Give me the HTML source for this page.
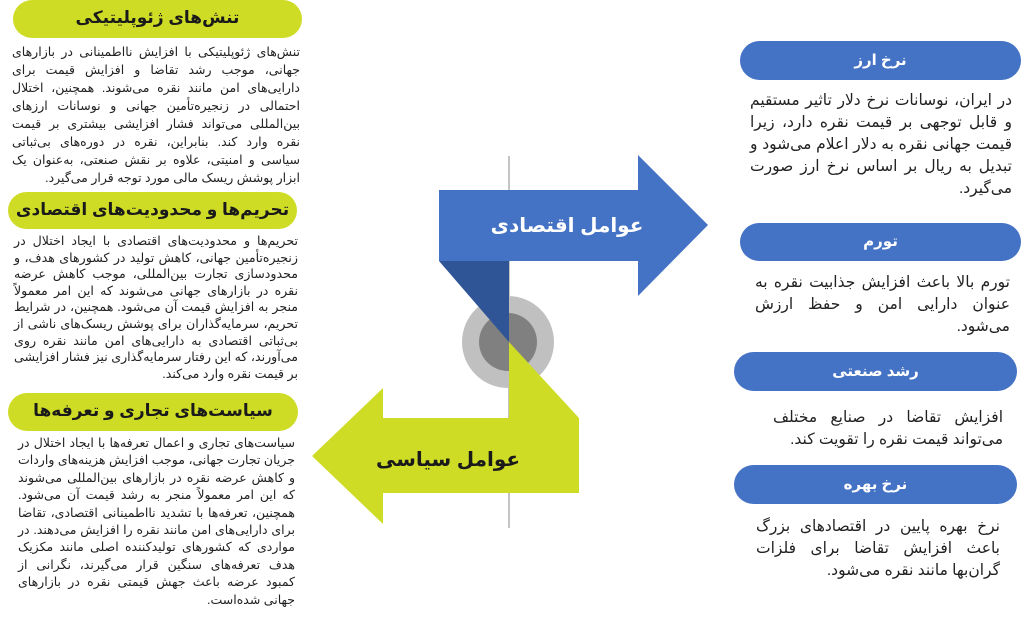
<!DOCTYPE html>
<html><head><meta charset="utf-8"><style>
body{margin:0;width:1024px;height:620px;background:#fff;position:relative;overflow:hidden;font-family:"Liberation Sans","DejaVu Sans",sans-serif;}
.p{position:absolute;border-radius:20px;text-align:center;font-weight:bold;direction:rtl;}
.g{background:#cedc26;color:#1a1a1a;font-size:17px;}
.b{background:#4472c4;color:#fff;font-size:15px;}
.t{position:absolute;direction:rtl;text-align:justify;text-align-last:right;color:#222;}
.l{font-size:12.5px;line-height:18px;}
.r{font-size:15.5px;line-height:22px;}
</style></head><body>
<svg width="1024" height="620" style="position:absolute;left:0;top:0">
<line x1="509" y1="156" x2="509" y2="528" stroke="#888" stroke-width="1"/>
<circle cx="508" cy="342" r="46" fill="#c0c0c0"/>
<circle cx="508" cy="342" r="29" fill="#808080"/>
<polygon points="439,190 638,190 638,155 708,225 638,296 638,261 439,261" fill="#4472c4"/>
<polygon points="439,261 509,261 509,342" fill="#2f5597"/>
<polygon points="509,342 579,418 579,493 383,493 383,524 312,456 383,388 383,418 509,418" fill="#cedc26"/>
<text x="567" y="232" fill="#fff" font-size="20" font-weight="bold" text-anchor="middle" font-family="Liberation Sans, DejaVu Sans, sans-serif" direction="rtl">عوامل اقتصادی</text>
<text x="448" y="466" fill="#1a1a1a" font-size="20" font-weight="bold" text-anchor="middle" font-family="Liberation Sans, DejaVu Sans, sans-serif" direction="rtl">عوامل سیاسی</text>
</svg>

<div class="p g" style="left:13px;top:0;width:289px;height:38px;line-height:36px">تنش‌های ژئوپلیتیکی</div>
<div class="t l" style="left:12px;top:43px;width:288px">تنش‌های ژئوپلیتیکی با افزایش نااطمینانی در بازارهای جهانی، موجب رشد تقاضا و افزایش قیمت برای دارایی‌های امن مانند نقره می‌شوند. همچنین، اختلال احتمالی در زنجیره‌تأمین جهانی و نوسانات ارزهای بین‌المللی می‌تواند فشار افزایشی بیشتری بر قیمت نقره وارد کند. بنابراین، نقره در دوره‌های بی‌ثباتی سیاسی و امنیتی، علاوه بر نقش صنعتی، به‌عنوان یک ابزار پوشش ریسک مالی مورد توجه قرار می‌گیرد.</div>

<div class="p g" style="left:8px;top:192px;width:289px;height:37px;line-height:35px">تحریم‌ها و محدودیت‌های اقتصادی</div>
<div class="t l" style="left:14px;top:233px;width:284px;font-size:12.6px;line-height:16.6px">تحریم‌ها و محدودیت‌های اقتصادی با ایجاد اختلال در زنجیره‌تأمین جهانی، کاهش تولید در کشورهای هدف، و محدودسازی تجارت بین‌المللی، موجب کاهش عرضه نقره در بازارهای جهانی می‌شوند که این امر معمولاً منجر به افزایش قیمت آن می‌شود. همچنین، در شرایط تحریم، سرمایه‌گذاران برای پوشش ریسک‌های ناشی از بی‌ثباتی اقتصادی به دارایی‌های امن مانند نقره روی می‌آورند، که این رفتار سرمایه‌گذاری نیز فشار افزایشی بر قیمت نقره وارد می‌کند.</div>

<div class="p g" style="left:8px;top:393px;width:290px;height:38px;line-height:36px">سیاست‌های تجاری و تعرفه‌ها</div>
<div class="t l" style="left:18px;top:435px;width:277px;line-height:17.4px">سیاست‌های تجاری و اعمال تعرفه‌ها با ایجاد اختلال در جریان تجارت جهانی، موجب افزایش هزینه‌های واردات و کاهش عرضه نقره در بازارهای بین‌المللی می‌شوند که این امر معمولاً منجر به رشد قیمت آن می‌شود. همچنین، تعرفه‌ها با تشدید نااطمینانی اقتصادی، تقاضا برای دارایی‌های امن مانند نقره را افزایش می‌دهند. در مواردی که کشورهای تولیدکننده اصلی مانند مکزیک هدف تعرفه‌های سنگین قرار می‌گیرند، نگرانی از کمبود عرضه باعث جهش قیمتی نقره در بازارهای جهانی شده‌است.</div>

<div class="p b" style="left:740px;top:41px;width:281px;height:39px;line-height:39px">نرخ ارز</div>
<div class="t r" style="left:750px;top:90px;width:262px">در ایران، نوسانات نرخ دلار تاثیر مستقیم و قابل توجهی بر قیمت نقره دارد، زیرا قیمت جهانی نقره به دلار اعلام می‌شود و تبدیل به ریال بر اساس نرخ ارز صورت می‌گیرد.</div>

<div class="p b" style="left:740px;top:223px;width:281px;height:38px;line-height:38px">تورم</div>
<div class="t r" style="left:755px;top:272px;width:255px">تورم بالا باعث افزایش جذابیت نقره به عنوان دارایی امن و حفظ ارزش می‌شود.</div>

<div class="p b" style="left:734px;top:352px;width:283px;height:39px;line-height:39px">رشد صنعتی</div>
<div class="t r" style="left:773px;top:407px;width:230px">افزایش تقاضا در صنایع مختلف می‌تواند قیمت نقره را تقویت کند.</div>

<div class="p b" style="left:734px;top:465px;width:283px;height:39px;line-height:39px">نرخ بهره</div>
<div class="t r" style="left:756px;top:516px;width:244px">نرخ بهره پایین در اقتصادهای بزرگ باعث افزایش تقاضا برای فلزات گران‌بها مانند نقره می‌شود.</div>
</body></html>
